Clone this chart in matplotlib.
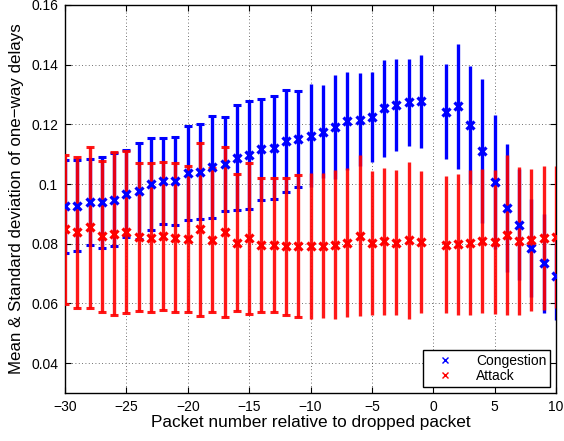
import matplotlib
matplotlib.use("Agg")
import matplotlib.pyplot as plt
import numpy as np

plt.rcParams['font.family'] = ['Liberation Sans', 'DejaVu Sans']

packet_pos = [-30, -29, -28, -27, -26, -25, -24, -23, -22, -21,
              -20, -19, -18, -17, -16, -15, -14, -13, -12, -11,
              -10, -9, -8, -7, -6, -5, -4, -3, -2, -1,
              1, 2, 3, 4, 5, 6, 7, 8, 9, 10]

congestion_mean = [0.0926, 0.0928, 0.0939, 0.0939, 0.0948, 0.0968, 0.0978, 0.1001, 0.1010, 0.1010,
                   0.1037, 0.1042, 0.1057, 0.1068, 0.1089, 0.1097, 0.1116, 0.1122, 0.1144, 0.1151,
                   0.1162, 0.1176, 0.1191, 0.1211, 0.1216, 0.1225, 0.1254, 0.1265, 0.1274, 0.1277,
                   0.1243, 0.1260, 0.1198, 0.1111, 0.1007, 0.0920, 0.0864, 0.0787, 0.0734, 0.0691]
congestion_std = [0.0156, 0.0151, 0.0144, 0.0152, 0.0156, 0.0145, 0.0161, 0.0155, 0.0143, 0.0148,
                  0.0156, 0.0158, 0.0170, 0.0158, 0.0175, 0.0180, 0.0170, 0.0172, 0.0170, 0.0160,
                  0.0173, 0.0157, 0.0175, 0.0164, 0.0156, 0.0150, 0.0162, 0.0155, 0.0146, 0.0155,
                  0.0159, 0.0211, 0.0197, 0.0242, 0.0223, 0.0213, 0.0186, 0.0164, 0.0167, 0.0145]

attack_mean = [0.0848, 0.0838, 0.0855, 0.0825, 0.0834, 0.0840, 0.0823, 0.0821, 0.0826, 0.0821,
               0.0816, 0.0848, 0.0812, 0.0840, 0.0804, 0.0818, 0.0795, 0.0795, 0.0791, 0.0791,
               0.0793, 0.0794, 0.0797, 0.0803, 0.0827, 0.0803, 0.0809, 0.0804, 0.0811, 0.0806,
               0.0797, 0.0798, 0.0804, 0.0808, 0.0806, 0.0830, 0.0809, 0.0812, 0.0818, 0.0822]
attack_std = [0.0250, 0.0252, 0.0269, 0.0252, 0.0272, 0.0271, 0.0247, 0.0250, 0.0247, 0.0250,
              0.0246, 0.0289, 0.0241, 0.0285, 0.0229, 0.0253, 0.0224, 0.0224, 0.0228, 0.0238,
              0.0244, 0.0243, 0.0250, 0.0250, 0.0270, 0.0242, 0.0246, 0.0244, 0.0264, 0.0238,
              0.0230, 0.0237, 0.0243, 0.0241, 0.0242, 0.0269, 0.0247, 0.0238, 0.0241, 0.0237]

xticks = [-30, -25, -20, -15, -10, -5, 0, 5, 10]
yticks = [0.04, 0.06, 0.08, 0.1, 0.12, 0.14, 0.16]
ytick_labels = ['0.04', '0.06', '0.08', '0.1', '0.12', '0.14', '0.16']

fig = plt.figure(figsize=(5.64, 4.41), dpi=100)
ax = fig.add_axes([65/564, 1 - 393/441, (556 - 65)/564, (393 - 5)/441])

blue = (0, 0, 1)
red = (1, 0, 0)

x = np.array(packet_pos)
capped = x <= -11  # caps remain visible only on the left part of the original raster


def draw_series(mean, std, color, z, alpha):
    mean = np.asarray(mean)
    std = np.asarray(std)
    for mask, cs in ((capped, 3.0), (~capped, 0)):
        ax.errorbar(x[mask], mean[mask], yerr=std[mask], fmt='none', ecolor=color,
                    elinewidth=2.4, capsize=cs, capthick=2.2, zorder=z, alpha=alpha)


draw_series(congestion_mean, congestion_std, blue, 2, 1.0)
draw_series(attack_mean, attack_std, red, 3, 0.9)
ax.plot(packet_pos, congestion_mean, linestyle='none', marker='x', color=blue,
        markersize=5.3, markeredgewidth=2.3, zorder=4, label='Congestion')
ax.plot(packet_pos, attack_mean, linestyle='none', marker='x', color=red,
        markersize=5.3, markeredgewidth=2.3, zorder=5, label='Attack')

ax.set_xlim(-30, 10)
ax.set_ylim(0.03, 0.16)
ax.set_xticks(xticks)
ax.set_xticklabels([str(t).replace('-', '\u2212') for t in xticks])
ax.set_yticks(yticks)
ax.set_yticklabels(ytick_labels)
ax.tick_params(direction='in', length=4, width=0.8, top=True, right=True,
               labelsize=10, pad=5)
ax.grid(True, linestyle=(0, (1, 3)), color='black', linewidth=0.6, alpha=0.75)
ax.set_axisbelow(True)
for s in ax.spines.values():
    s.set_linewidth(1.0)

ax.set_xlabel('Packet number relative to dropped packet', fontsize=12.4, labelpad=1)
ax.set_ylabel('Mean & Standard deviation of one\u2212way delays', fontsize=12.2, labelpad=5)

handles, labels = ax.get_legend_handles_labels()
leg = ax.legend(handles, labels, loc='lower right', fontsize=10, frameon=True,
                fancybox=False, edgecolor='black', framealpha=1, borderaxespad=0.4,
                handlelength=2.5, handletextpad=1.0, borderpad=0.3, labelspacing=0.1,
                markerscale=1.0)
leg.get_frame().set_linewidth(1.0)
for h in leg.legend_handles:
    h.set_markeredgewidth(1.0)
    h.set_markersize(5)

fig.savefig('out.png', dpi=100)
